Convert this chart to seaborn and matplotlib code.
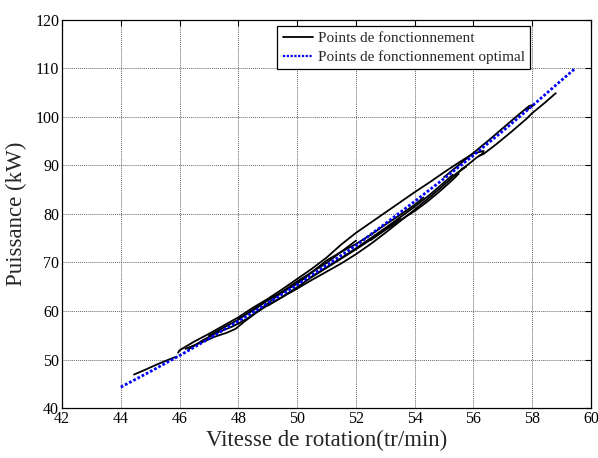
import matplotlib
matplotlib.use("Agg")
import matplotlib.pyplot as plt
from matplotlib.lines import Line2D
import seaborn as sns
import pandas as pd

# Optimal operating points (blue dotted)
opt_speed = [44.0, 45.0, 46.0, 47.0, 48.0, 49.0, 50.0, 51.0, 52.0, 53.0,
             54.0, 55.0, 56.0, 57.0, 58.0, 59.0, 59.46]
opt_power = [44.3, 47.5, 50.8, 54.3, 57.9, 61.6, 65.4, 69.4, 73.5, 78.0,
             82.6, 87.3, 92.1, 97.1, 102.3, 107.6, 110.0]

# Measured operating points (black strands)
s1_speed = [44.45, 44.8, 45.2, 45.6, 45.9]
s1_power = [46.9, 47.8, 48.9, 49.9, 50.6]

s2_speed = [45.95, 46.0, 46.5, 47.0, 47.5, 48.0, 48.5, 49.0, 49.5, 50.0, 50.5,
            51.0, 51.5, 52.0, 52.5, 53.0, 53.5, 54.0, 54.5, 55.0, 55.5, 56.0,
            56.35, 56.3, 56.1, 55.9, 55.5, 55.0, 54.5, 54.0, 53.5, 53.0, 52.5,
            52.0, 51.5, 51.0, 50.5, 50.0, 49.5, 49.0]
s2_power = [51.4, 51.9, 53.7, 55.3, 57.0, 58.7, 60.7, 62.5, 64.5, 66.6, 68.7,
            71.0, 73.7, 76.1, 78.2, 80.3, 82.4, 84.5, 86.5, 88.6, 90.6, 92.5,
            93.0, 92.4, 91.6, 90.6, 88.7, 86.0, 83.4, 80.9, 78.5, 76.1, 73.8,
            71.7, 69.8, 68.1, 66.4, 64.6, 62.9, 61.1]

s3_speed = [52.5, 53.0, 53.5, 54.0, 54.4, 54.8, 55.1, 55.35, 55.5, 55.35,
            55.55, 55.75, 55.6]
s3_power = [74.6, 76.7, 78.7, 80.6, 82.4, 84.4, 86.0, 87.4, 88.3, 88.0,
            88.9, 89.8, 89.3]

s4_speed = [56.2, 56.35, 56.8, 57.3, 57.8, 58.0, 58.4, 58.8]
s4_power = [92.0, 92.4, 94.5, 97.0, 99.6, 100.8, 102.8, 104.9]

s5_speed = [55.0, 55.5, 56.0, 56.5, 57.0, 57.5, 57.9, 58.05, 57.85]
s5_power = [87.6, 90.1, 92.6, 95.1, 97.7, 100.3, 102.3, 102.5, 101.6]

s6_speed = [46.2, 46.7, 47.2, 47.6, 47.9, 48.2, 48.6, 49.0, 49.5, 50.0, 50.5,
            51.0, 51.5, 52.0, 52.5, 53.0, 53.5]
s6_power = [52.2, 53.4, 54.7, 55.5, 56.3, 57.8, 59.6, 61.2, 62.9, 64.9, 67.0,
            68.9, 70.8, 72.7, 74.7, 76.9, 79.1]

s7_speed = [47.0, 47.5, 48.0, 48.5, 49.0, 49.5, 50.0, 50.5, 51.0, 51.5, 52.0,
            52.5, 53.0, 53.5, 54.0, 54.3]
s7_power = [54.9, 56.6, 58.2, 60.3, 62.3, 63.9, 65.6, 68.0, 70.4, 72.2, 73.8,
            75.7, 77.8, 79.8, 81.9, 83.4]

s8_speed = [46.3, 46.8, 47.3, 47.8, 48.3, 48.8, 49.3, 49.8, 50.3]
s8_power = [52.1, 54.0, 55.6, 56.8, 58.4, 60.6, 63.0, 65.1, 66.9]

s9_speed = [50.5, 51.0, 51.5, 52.0, 52.5, 53.0, 53.5, 54.0, 54.5, 55.0, 55.3]
s9_power = [67.1, 69.0, 70.9, 72.9, 75.0, 77.1, 79.3, 81.5, 83.9, 86.5, 88.1]

s10_speed = [48.0, 48.5, 49.0, 49.5, 50.0, 50.5, 51.0, 51.5, 52.0]
s10_power = [58.4, 60.1, 62.2, 64.0, 66.1, 68.0, 69.9, 72.2, 74.5]

x_ticks = [42, 44, 46, 48, 50, 52, 54, 56, 58, 60]
y_ticks = [40, 50, 60, 70, 80, 90, 100, 110, 120]

label_meas = "Points de fonctionnement"
label_opt = "Points de fonctionnement optimal"
x_label = "Vitesse de rotation(tr/min)"
y_label = "Puissance (kW)"

strands = [(s1_speed, s1_power), (s2_speed, s2_power), (s3_speed, s3_power),
           (s4_speed, s4_power), (s5_speed, s5_power), (s6_speed, s6_power),
           (s7_speed, s7_power), (s8_speed, s8_power), (s9_speed, s9_power),
           (s10_speed, s10_power)]
rows = []
for i, (xs, ys) in enumerate(strands):
    for x, y in zip(xs, ys):
        rows.append({"speed": x, "power": y, "strand": i})
meas = pd.DataFrame(rows)
opt = pd.DataFrame({"speed": opt_speed, "power": opt_power})

sns.set_theme(style="white")
plt.rcParams["font.family"] = ["Liberation Serif", "DejaVu Serif"]

fig = plt.figure(figsize=(5.98, 4.58), dpi=100)
ax = fig.add_axes([62 / 598, 1 - 408 / 458, (591 - 62) / 598, (408 - 20) / 458])

sns.lineplot(data=meas, x="speed", y="power", units="strand", estimator=None,
             sort=False, color="black", linewidth=1.3, ax=ax, legend=False)
sns.lineplot(data=opt, x="speed", y="power", sort=False, color="#0000ff",
             linewidth=2.0, linestyle=(0, (1, 0.7)), ax=ax, legend=False)

ax.set_xlim(42, 60)
ax.set_ylim(40, 120)
ax.set_xticks(x_ticks)
ax.set_yticks(y_ticks)
ax.set_xticklabels([str(t) for t in x_ticks])
ax.set_yticklabels([str(t) for t in y_ticks])
ax.tick_params(direction="in", length=4, width=0.8, top=True, right=True,
               labelsize=11.5, colors="black", pad=2)
ax.grid(True, color="#666666", linestyle=(0, (1, 1)), linewidth=0.7)
for sp in ax.spines.values():
    sp.set_color("black")
    sp.set_linewidth(0.9)
ax.set_xlabel(x_label, fontsize=16.5, labelpad=2)
ax.set_ylabel(y_label, fontsize=16.5, labelpad=6)

handles = [Line2D([], [], color="black", linewidth=1.3),
           Line2D([], [], color="#0000ff", linewidth=1.6, linestyle=(0, (1, 0.7)))]
leg = ax.legend(handles, [label_meas, label_opt], loc="upper right",
                bbox_to_anchor=(0.885, 0.985), borderaxespad=0, fontsize=11,
                fancybox=False, framealpha=1, edgecolor="black",
                handlelength=2.0, handletextpad=0.3, borderpad=0.35,
                labelspacing=0.35)
leg.get_frame().set_linewidth(0.9)

fig.savefig("out.png", dpi=100, facecolor="white")
